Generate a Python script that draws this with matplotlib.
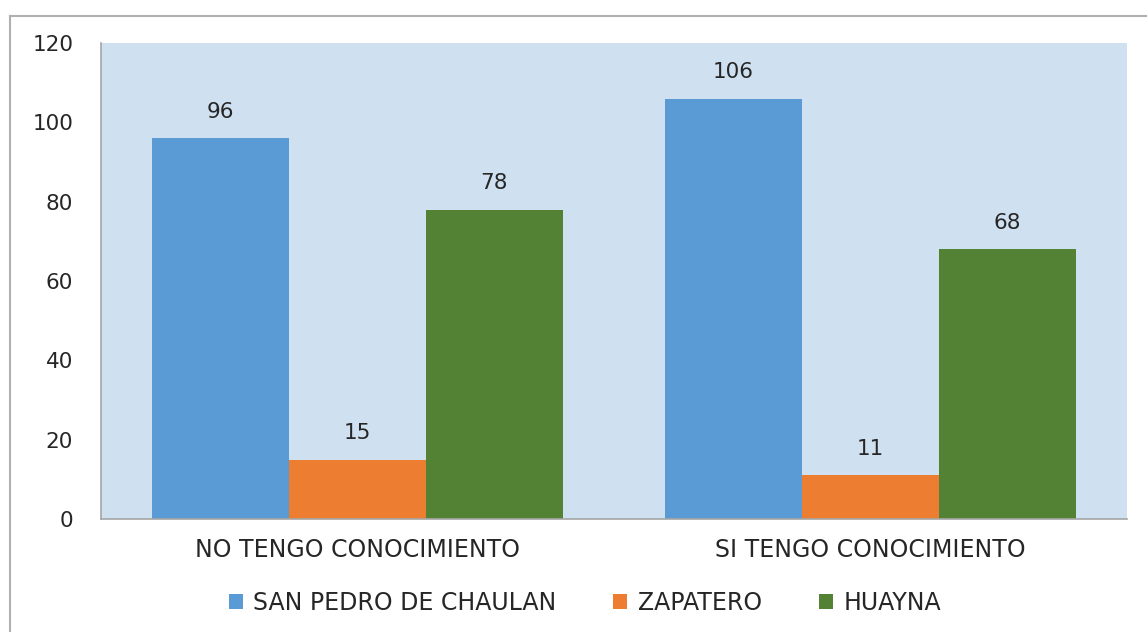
import numpy as np
import matplotlib
matplotlib.use("Agg")
import matplotlib.pyplot as plt
from matplotlib.lines import Line2D

categories = ["NO TENGO CONOCIMIENTO", "SI TENGO CONOCIMIENTO"]
series_names = ["SAN PEDRO DE CHAULAN", "ZAPATERO", "HUAYNA"]
san_pedro = [96, 106]
zapatero = [15, 11]
huayna = [78, 68]
y_ticks = [0, 20, 40, 60, 80, 100, 120]

colors = ["#5B9BD5", "#ED7D31", "#548235"]
text_color = "#262626"
plt.rcParams["font.family"] = ["DejaVu Sans"]
fs = 15.5
fs_cat = 17

fig = plt.figure(figsize=(11.47, 6.32), dpi=100)
ax = fig.add_axes([101 / 1147, 1 - 519 / 632, 1026 / 1147, 476 / 632])
ax.set_facecolor("#CFE0F1")

x = np.arange(len(categories))
width = 0.267
for i, (vals, name) in enumerate(zip([san_pedro, zapatero, huayna], series_names)):
    pos = x + (i - 1) * width
    ax.bar(pos, vals, width, color=colors[i], label=name)
    for xb, v in zip(pos, vals):
        ax.annotate(str(v), (xb, v), xytext=(0, 12), textcoords="offset points",
                    ha="center", va="bottom", fontsize=fs, color=text_color)

ax.set_xlim(-0.5, 1.5)
ax.set_ylim(0, 120)
ax.set_yticks(y_ticks)
ax.set_xticks(x)
ax.set_xticklabels(categories, fontsize=fs_cat)
ax.tick_params(axis="y", length=0, labelsize=fs, colors=text_color, pad=20)
ax.tick_params(axis="x", length=0, colors=text_color, pad=14)
for s in ["top", "right"]:
    ax.spines[s].set_visible(False)
for s in ["left", "bottom"]:
    ax.spines[s].set_color("#A6A6A6")
    ax.spines[s].set_linewidth(1.2)

leg = fig.legend(loc="center", bbox_to_anchor=(0.51, 1 - 603 / 632), ncol=3,
                 frameon=False, fontsize=fs_cat, handlelength=0.6, handleheight=0.6,
                 handletextpad=0.45, columnspacing=2.4)
for t in leg.get_texts():
    t.set_color(text_color)

# outer chart border (top and left edges visible)
fig.add_artist(Line2D([10 / 1147, 10 / 1147], [0, 1 - 16 / 632], color="#B0B0B0", lw=1.5))
fig.add_artist(Line2D([10 / 1147, 1], [1 - 16 / 632, 1 - 16 / 632], color="#B0B0B0", lw=1.5))

fig.savefig("out.png", dpi=100)
